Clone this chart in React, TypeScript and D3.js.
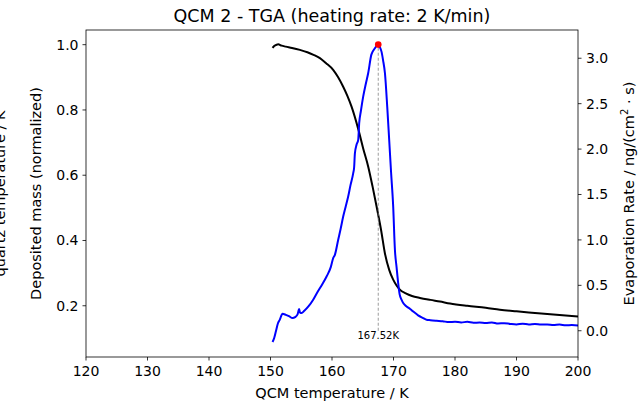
import React from "react";
import * as d3 from "d3";

const title = "QCM 2 - TGA (heating rate: 2 K/min)";
const xTicks = [120, 130, 140, 150, 160, 170, 180, 190, 200];
const leftTicks = [0.2, 0.4, 0.6, 0.8, 1.0];
const rightTicks = [0.0, 0.5, 1.0, 1.5, 2.0, 2.5, 3.0];

const massT = [150.33, 150.6, 151.0, 151.25, 151.8, 152.5, 153.5, 154.78, 156.0, 157.0, 158.03, 159.0, 160.19, 161.0, 161.82, 162.5, 163.18, 164.26, 165.07, 165.88, 166.6, 167.25, 168.0, 168.6, 169.3, 169.95, 170.5, 171.04, 172.0, 173.0, 174.3, 176.0, 177.55, 179.2, 182.0, 185.0, 187.3, 190.0, 193.0, 196.0, 200.0];
const massV = [0.990, 0.996, 1.0, 1.001, 0.997, 0.994, 0.990, 0.984, 0.977, 0.969, 0.959, 0.944, 0.923, 0.900, 0.871, 0.843, 0.810, 0.742, 0.682, 0.627, 0.565, 0.504, 0.430, 0.361, 0.310, 0.280, 0.262, 0.249, 0.238, 0.230, 0.224, 0.218, 0.213, 0.207, 0.200, 0.194, 0.188, 0.183, 0.178, 0.173, 0.167];

const rateT = [150.33, 150.6, 150.9, 151.2, 151.5, 151.96, 152.5, 153.0, 153.59, 154.0, 154.4, 154.66, 154.8, 155.05, 155.5, 156.2, 156.94, 157.6, 158.4, 159.12, 159.8, 160.19, 160.47, 161.0, 161.4, 161.82, 162.2, 162.63, 163.0, 163.45, 163.6, 163.72, 164.0, 164.26, 164.42, 164.7, 165.07, 165.5, 165.88, 166.4, 166.98, 167.3, 167.52, 167.8, 168.06, 168.3, 168.61, 168.98, 169.3, 169.6, 169.95, 170.23, 170.5, 170.76, 171.0, 171.32, 171.58, 172.13, 172.7, 173.2, 174.0, 174.83, 175.38, 176.0, 177.0, 178.0, 179.0, 180.0, 181.0, 182.0, 183.0, 184.0, 185.0, 186.0, 187.0, 188.0, 189.0, 190.0, 191.0, 192.0, 193.0, 194.0, 195.0, 196.0, 197.0, 198.0, 199.0, 200.0];
const rateV = [-0.124, -0.08, 0.0, 0.08, 0.12, 0.187, 0.175, 0.16, 0.14, 0.15, 0.18, 0.239, 0.2, 0.195, 0.22, 0.27, 0.341, 0.42, 0.51, 0.597, 0.70, 0.80, 0.836, 1.0, 1.12, 1.257, 1.36, 1.477, 1.6, 1.735, 1.8, 1.95, 2.05, 2.1, 2.285, 2.42, 2.578, 2.72, 2.835, 3.04, 3.11, 3.14, 3.15, 3.12, 3.07, 2.98, 2.835, 2.468, 2.1, 1.75, 1.367, 0.891, 0.70, 0.525, 0.40, 0.341, 0.305, 0.267, 0.24, 0.212, 0.17, 0.14, 0.121, 0.116, 0.11, 0.105, 0.095, 0.10, 0.092, 0.098, 0.088, 0.09, 0.085, 0.092, 0.08, 0.083, 0.075, 0.07, 0.078, 0.07, 0.075, 0.068, 0.07, 0.062, 0.068, 0.06, 0.062, 0.058];

const peakT = 167.52;
const peakRate = 3.15;
const peakLabel = "167.52K";

const W = 644, H = 406;
const L = 86, R = 578, T = 30, B = 357;
const FONT = "DejaVu Sans, sans-serif";

export default function App() {
  const x = d3.scaleLinear().domain([120, 200]).range([L, R]);
  const yL = d3.scaleLinear().domain([0.043, 1.045]).range([B, T]);
  const yR = d3.scaleLinear().domain([-0.289, 3.311]).range([B, T]);

  const massPts: [number, number][] = massT.map((t, i) => [t, massV[i]]);
  const ratePts: [number, number][] = rateT.map((t, i) => [t, rateV[i]]);
  const massLine = d3.line<[number, number]>().x(d => x(d[0])).y(d => yL(d[1])).curve(d3.curveMonotoneX);
  const rateLine = d3.line<[number, number]>().x(d => x(d[0])).y(d => yR(d[1])).curve(d3.curveMonotoneX);

  const tickFs = 14;
  const labelFs = 14.5;

  return (
    <div style={{ position: "fixed", left: 0, top: 0 }}>
      <svg width={W} height={H} style={{ display: "block", background: "#fff" }} fontFamily={FONT}>
        <rect x={0} y={0} width={W} height={H} fill="#fff" />
        <defs>
          <clipPath id="plot"><rect x={L} y={T} width={R - L} height={B - T} /></clipPath>
        </defs>
        <g clipPath="url(#plot)">
          <path d={massLine(massPts) || ""} fill="none" stroke="#000" strokeWidth={2} strokeLinejoin="round" />
          <path d={rateLine(ratePts) || ""} fill="none" stroke="#0000ff" strokeWidth={2} strokeLinejoin="round" />
          <line x1={x(peakT)} x2={x(peakT)} y1={yR(0)} y2={yR(peakRate)} stroke="#808080" strokeWidth={0.8} strokeDasharray="3,2" />
          <circle cx={x(peakT)} cy={yR(peakRate)} r={3.3} fill="#ff0000" />
        </g>
        <text x={x(peakT)} y={yR(0) + 8.5} fontSize={10} textAnchor="middle" fill="#000">{peakLabel}</text>

        <rect x={L} y={T} width={R - L} height={B - T} fill="none" stroke="#000" strokeWidth={0.8} />

        {xTicks.map(t => (
          <g key={"x" + t}>
            <line x1={x(t)} x2={x(t)} y1={B} y2={B + 3.5} stroke="#000" strokeWidth={0.8} />
            <text x={x(t)} y={B + 19} fontSize={tickFs} textAnchor="middle" fill="#000">{t}</text>
          </g>
        ))}
        {leftTicks.map(t => (
          <g key={"l" + t}>
            <line x1={L - 3.5} x2={L} y1={yL(t)} y2={yL(t)} stroke="#000" strokeWidth={0.8} />
            <text x={L - 7.5} y={yL(t) + 5} fontSize={tickFs} textAnchor="end" fill="#000">{t.toFixed(1)}</text>
          </g>
        ))}
        {rightTicks.map(t => (
          <g key={"r" + t}>
            <line x1={R} x2={R + 3.5} y1={yR(t)} y2={yR(t)} stroke="#000" strokeWidth={0.8} />
            <text x={R + 8} y={yR(t) + 5} fontSize={tickFs} textAnchor="start" fill="#000">{t.toFixed(1)}</text>
          </g>
        ))}

        <text x={(L + R) / 2} y={21.5} fontSize={17.5} textAnchor="middle" fill="#000">{title}</text>
        <text x={(L + R) / 2} y={398} fontSize={labelFs} textAnchor="middle" fill="#000">QCM temperature / K</text>
        <text transform={`translate(41,${(T + B) / 2}) rotate(-90)`} fontSize={labelFs} textAnchor="middle" fill="#000">Deposited mass (normalized)</text>
        <text transform={`translate(5,${(T + B) / 2}) rotate(-90)`} fontSize={labelFs} textAnchor="middle" fill="#000">quartz temperature / K</text>
        <text transform={`translate(634,${(T + B) / 2}) rotate(-90)`} fontSize={labelFs} textAnchor="middle" fill="#000">
          Evaporation Rate / ng/(cm<tspan fontSize={10} dy={-6}>2</tspan><tspan dy={6}> · s)</tspan>
        </text>
      </svg>
    </div>
  );
}
